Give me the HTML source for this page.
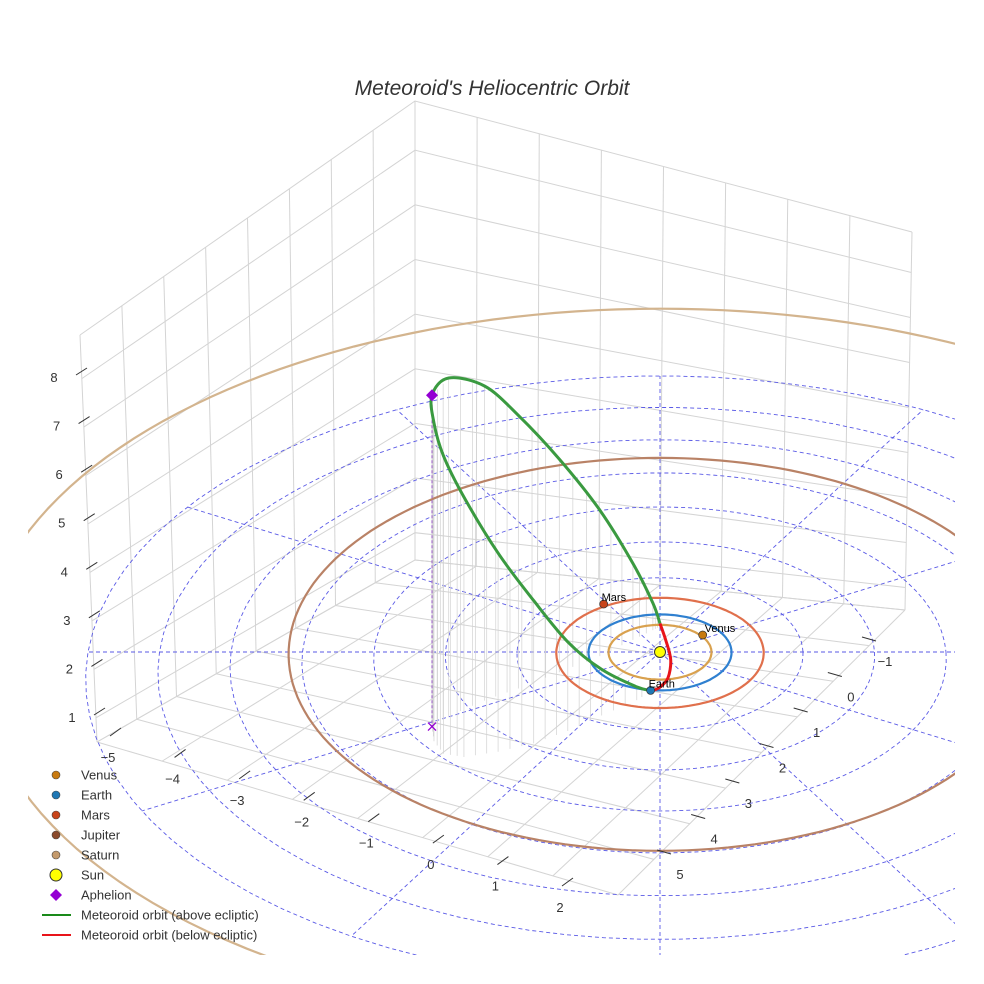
<!DOCTYPE html>
<html><head><meta charset="utf-8"><style>
html,body{margin:0;padding:0;background:#fff;overflow:hidden;width:984px;height:984px;}
svg{display:block;font-family:"Liberation Sans",sans-serif;}
</style></head><body>
<svg id="chart" width="984" height="984" viewBox="0 0 984 984">
<defs><clipPath id="clip"><rect x="28" y="60" width="927" height="895"/></clipPath></defs>
<text x="492" y="95" text-anchor="middle" font-size="21" font-style="italic" fill="#333">Meteoroid's Heliocentric Orbit</text>
<g id="box"></g>
<g id="plot" clip-path="url(#clip)"></g>
<g id="axes"></g>
<g id="legend"></g>
</svg>
<script>
const planetNames=["Venus","Earth","Mars","Jupiter","Saturn"];
const planetA=[0.72,1.0,1.45,5.2,9.54];
const planetCenterV=[0,0,0,-0.25,-0.7];
const planetOrbitColors=["#d9a14e","#2f80d0","#e0704c","#b98266","#d3b48e"];
const planetMarkerColors=["#c87a10","#1f77b4","#c8441a","#8b4a2b","#c49a6c"];
const planetPosU=[0.6,-0.13,-0.8,null,null];
const planetPosV=[-0.45,1.0,-1.28,null,null];
const orbitU=[-0.11,-0.32,-0.80,-1.26,-1.72,-2.20,-2.66,-2.94,-3.08,-3.12,-2.90,-2.42,-1.96,-1.40,-0.84,-0.38,-0.10,0.0,0.08,0.15,0.11,0.0,-0.11];
const orbitV=[1.01,1.25,1.64,2.03,2.34,2.55,2.68,2.60,2.29,1.92,1.66,1.26,0.95,0.53,0.11,-0.32,-0.58,-0.68,-0.42,0.0,0.53,0.89,1.01];
const orbitZ=[0,0.27,0.93,1.79,2.86,3.97,5.19,5.95,6.38,6.67,6.83,6.38,5.56,4.36,3.00,1.58,0.56,0.06,-0.08,-0.16,-0.12,-0.02,0];
const aphelionIndex=9;
const belowStart=17;
const xTicks=[-5,-4,-3,-2,-1,0,1,2];
const yTicks=[-1,0,1,2,3,4,5];
const zTicks=[1,2,3,4,5,6,7,8];
const ringRadii=[1,2,3,4,5,6,7,8];
const radialAngles=[0,30,60,90,120,150,180,210,240,270,300,330];
const radialLength=8;

const NS="http://www.w3.org/2000/svg";
function P(u,v,z){const f=1+0.0115*v;return [660+71.5*u*f,652+38*v*f-48.6*z*f];}
function mk(tag,attrs,parent){const e=document.createElementNS(NS,tag);for(const k in attrs)e.setAttribute(k,attrs[k]);parent.appendChild(e);return e;}
function lerp(a,b,t){return [a[0]+(b[0]-a[0])*t,a[1]+(b[1]-a[1])*t];}
function pts(arr){return arr.map(p=>p[0].toFixed(1)+","+p[1].toFixed(1)).join(" ");}
function smooth(p){let d="M"+p[0][0].toFixed(1)+","+p[0][1].toFixed(1);for(let i=0;i<p.length-1;i++){const p0=p[Math.max(0,i-1)],p1=p[i],p2=p[i+1],p3=p[Math.min(p.length-1,i+2)];
const c1=[p1[0]+(p2[0]-p0[0])/6,p1[1]+(p2[1]-p0[1])/6],c2=[p2[0]-(p3[0]-p1[0])/6,p2[1]-(p3[1]-p1[1])/6];
d+=" C"+c1[0].toFixed(1)+","+c1[1].toFixed(1)+" "+c2[0].toFixed(1)+","+c2[1].toFixed(1)+" "+p2[0].toFixed(1)+","+p2[1].toFixed(1);}return d;}

// Box
const box=document.getElementById('box');
const TL=[80,335],TB=[415,101],TR=[912,232],BL=[97,742],BB=[415,560],BR=[905,610],F=[618,895];
const gs={stroke:"#d4d4d4","stroke-width":1,fill:"none"};
function ln(a,b,name){const e=mk('line',Object.assign({x1:a[0],y1:a[1],x2:b[0],y2:b[1]},gs),box);
 
 }
for(let i=0;i<=8;i++){const s=i/8;
 ln(lerp(BL,BB,s),lerp(TL,TB,s),'left-wall-gridline');
 ln(lerp(BB,BR,s),lerp(TB,TR,s),'right-wall-gridline');
 ln(lerp(BL,F,s),lerp(BB,BR,s),'floor-gridline');
 ln(lerp(BL,BB,s),lerp(F,BR,s),'floor-gridline');
}
function zt(z){return (z-0.5)/8.4;}
[0.5].concat(zTicks).concat([8.9]).forEach(z=>{const t=zt(z);
 const e=mk('polyline',Object.assign({points:pts([lerp(BL,TL,t),lerp(BB,TB,t),lerp(BR,TR,t)])},gs),box);
 
 });

// Plot
const plot=document.getElementById('plot');
ringRadii.forEach(r=>{const p=[];for(let a=0;a<=360;a+=4){const t=a*Math.PI/180;p.push(P(r*Math.cos(t),r*Math.sin(t),0));}
 const e=mk('polyline',{points:pts(p),fill:"none",stroke:"#5a5ae6","stroke-width":0.9,"stroke-dasharray":"4,3"},plot);
 
 });
radialAngles.forEach(a=>{const t=a*Math.PI/180;const p=[P(0,0,0),P(radialLength*Math.cos(t),radialLength*Math.sin(t),0)];
 const e=mk('polyline',{points:pts(p),fill:"none",stroke:"#5a5ae6","stroke-width":0.9,"stroke-dasharray":"4,3"},plot);
 
 });
// drop lines
for(let i=0;i<orbitU.length-1;i++){
 for(let k=0;k<3;k++){const t=k/3;const u=orbitU[i]+(orbitU[i+1]-orbitU[i])*t,v=orbitV[i]+(orbitV[i+1]-orbitV[i])*t,z=orbitZ[i]+(orbitZ[i+1]-orbitZ[i])*t;
 if(z<=0.15)continue;
 const a=P(u,v,z),b=P(u,v,0);
 const e=mk('line',{x1:a[0],y1:a[1],x2:b[0],y2:b[1],stroke:"#d2d2d2","stroke-width":0.7},plot);
 
 }}
planetA.forEach((r,i)=>{const p=[];for(let a=0;a<=360;a+=2){const t=a*Math.PI/180;p.push(P(r*Math.cos(t),planetCenterV[i]+r*Math.sin(t),0));}
 const e=mk('polyline',{points:pts(p),fill:"none",stroke:planetOrbitColors[i],"stroke-width":2.2},plot);
 
 });
const aph=P(orbitU[aphelionIndex],orbitV[aphelionIndex],orbitZ[aphelionIndex]),aphG=P(orbitU[aphelionIndex],orbitV[aphelionIndex],0);
let dl=mk('line',{x1:aph[0],y1:aph[1],x2:aphG[0],y2:aphG[1],stroke:"#9b59c6","stroke-width":1,"stroke-dasharray":"3,2"},plot);


const sp=orbitU.map((u,i)=>P(u,orbitV[i],orbitZ[i]));
const above=sp.slice(0,belowStart+1),below=sp.slice(belowStart);
let ga=mk('path',{d:smooth(above),fill:"none",stroke:"#3a9a40","stroke-width":3},plot);


let gb=mk('path',{d:smooth(below),fill:"none",stroke:"#e8141a","stroke-width":3},plot);


const sun=P(0,0,0);
let sc=mk('circle',{cx:sun[0],cy:sun[1],r:5.5,fill:"#ffff00",stroke:"#333","stroke-width":1},plot);


planetNames.forEach((n,i)=>{if(planetPosU[i]===null)return;const p=P(planetPosU[i],planetPosV[i],0);
 const c=mk('circle',{cx:p[0],cy:p[1],r:4,fill:planetMarkerColors[i],stroke:"#333","stroke-width":0.7},plot);
 
 
 const t=mk('text',{x:p[0]+(n==="Venus"?2:-2),y:p[1]-3,"font-size":11,fill:"#000"},plot);t.textContent=n;
 
 });
let ad=mk('path',{d:`M${aph[0]},${aph[1]-6} l6,6 l-6,6 l-6,-6z`,fill:"#9400d3"},plot);


let ax=mk('path',{d:`M${aphG[0]-4},${aphG[1]-4} l8,8 M${aphG[0]+4},${aphG[1]-4} l-8,8`,stroke:"#9400d3","stroke-width":1.3},plot);



// Axes ticks
const axes=document.getElementById('axes');
function xAxis(v){return lerp([108,758],[560,908],(v+5)/7);}
function yAxis(v){return lerp([885,662],[680,875],(v+1)/6);}
function zAxis(v){return lerp([72,718],[54,378],(v-1)/7);}
function tick(p,label,dx1,dy1,dx2,dy2,name){
 const t=mk('text',{x:p[0],y:p[1]+4,"font-size":13,fill:"#333","text-anchor":"middle"},axes);t.textContent=label;
 
 
 const l=mk('line',{x1:p[0]+dx1,y1:p[1]+dy1,x2:p[0]+dx2,y2:p[1]+dy2,stroke:"#333","stroke-width":1},axes);
 
 }
xTicks.forEach(v=>tick(xAxis(v),v<0?"\u2212"+(-v):String(v),2,-22,13,-30,'x'));
yTicks.forEach(v=>tick(yAxis(v),v<0?"\u2212"+(-v):String(v),-23,-25,-9,-21,'y'));
zTicks.forEach(v=>tick(zAxis(v),String(v),22,-3,33,-10,'z'));

// Legend
const lg=document.getElementById('legend');
const legendLabels=["Venus","Earth","Mars","Jupiter","Saturn","Sun","Aphelion","Meteoroid orbit (above ecliptic)","Meteoroid orbit (below ecliptic)"];
legendLabels.forEach((lab,i)=>{const y=775+i*20;
 const g=mk('g',{},lg);
 
 
 if(i<5)mk('circle',{cx:56,cy:y,r:4,fill:planetMarkerColors[i],stroke:"#444","stroke-width":0.6},g);
 else if(i===5)mk('circle',{cx:56,cy:y,r:6,fill:"#ffff00",stroke:"#333","stroke-width":1},g);
 else if(i===6)mk('path',{d:`M56,${y-6} l6,6 l-6,6 l-6,-6z`,fill:"#9400d3"},g);
 else mk('line',{x1:42,y1:y,x2:71,y2:y,stroke:i===7?"#1a8a1a":"#e8141a","stroke-width":2},g);
 const t=mk('text',{x:81,y:y+4.5,"font-size":13,fill:"#333"},g);t.textContent=lab;});
</script>
</body></html>
